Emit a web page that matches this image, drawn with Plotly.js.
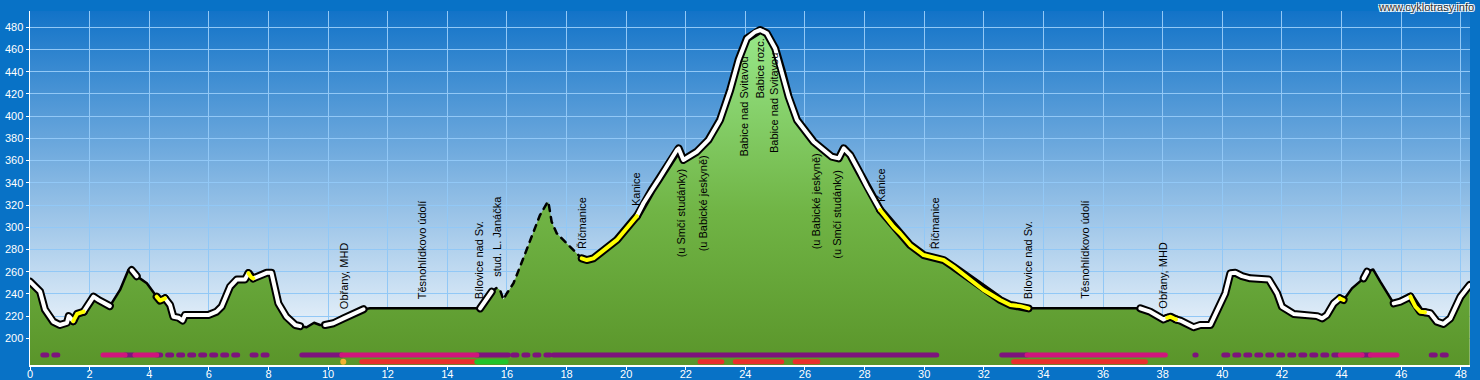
<!DOCTYPE html>
<html><head><meta charset="utf-8">
<script src="https://cdn.plot.ly/plotly-3.0.1.min.js"></script>
<style>
html,body{margin:0;padding:0;background:#0872c6;}
#wrap{position:relative;width:1480px;height:380px;background:#0872c6;overflow:hidden;}
#sky{position:absolute;left:30px;top:11px;width:1440px;height:354px;background:linear-gradient(to bottom,#1273c8 0%,#ffffff 100%);}
#chart{position:absolute;left:0;top:0;width:1480px;height:380px;}
#chart path.js-line{stroke-linecap:round !important;stroke-linejoin:round !important;}
</style></head><body>
<div id="wrap"><div id="sky"></div><div id="chart"></div></div>
<script>
// Elevation profile (distance km, elevation m)
const km = [0.00,0.34,0.50,0.78,1.00,1.24,1.30,1.45,1.58,1.80,1.96,2.13,2.30,2.57,2.68,3.02,3.30,3.41,3.50,3.58,3.69,3.92,4.25,4.36,4.53,4.70,4.81,4.98,5.12,5.20,5.98,6.26,6.43,6.71,6.94,7.21,7.33,7.42,7.49,7.66,7.94,8.10,8.33,8.60,8.90,9.06,9.28,9.53,9.73,9.90,10.18,10.52,10.91,11.19,11.41,14.99,15.10,15.38,15.49,15.66,15.77,15.88,16.00,16.22,16.44,16.78,17.11,17.34,17.39,17.50,17.67,18.00,18.34,18.51,18.68,18.90,19.13,19.69,20.25,20.36,20.58,20.86,21.08,21.70,21.76,21.92,22.37,22.76,23.15,23.49,23.77,24.05,24.33,24.50,24.72,25.00,25.23,25.45,25.73,26.29,26.90,27.13,27.30,27.52,27.85,28.08,28.52,28.97,29.19,29.53,29.98,30.20,30.65,30.98,31.43,31.99,32.55,32.89,33.22,33.50,37.25,37.58,38.03,38.15,38.26,38.45,38.59,39.04,39.26,39.60,39.93,40.10,40.27,40.44,40.66,40.94,41.56,41.84,42.00,42.39,43.18,43.35,43.51,43.74,43.94,44.07,44.35,44.74,44.86,45.06,45.30,45.75,45.97,46.31,46.48,46.64,46.80,46.98,47.20,47.42,47.65,47.99,48.30];
const elev = [251,242,226,215,212,214,220,215.5,222,224,230,237.5,234.5,230,229,243.6,261.5,261.5,258,256,254,249.6,237.5,234,236,230,219.5,218.6,216,221,221,224,228.5,246.5,253,253,258.6,255,254,256,259,259,231.6,219.5,212,211,210,214,212,212,213.6,218,222.6,226.2,227,227,227,237.5,242,245.6,243.5,235,240.6,249.6,264.5,288.6,311,321.6,323,305,294.6,285.6,276.6,272,270.5,272,276.6,288.6,306.6,310,321.6,333.6,342.6,369.6,371,360.6,368,378.6,396.6,423.5,450.6,470,476,477.6,474.6,461,440,417.5,396.6,377,363.5,362,371,365,348.6,336.5,315.6,300.5,294.6,284,275,273.5,270.5,264.5,255.5,243.5,234.5,230,229,227,227,224,217,218.5,219.5,217,216,210,212,212,230,240.5,258.6,259,256,254,253,240.5,228.5,222,220,218,221,231.5,236,234.5,245,254,260,262,251,231.5,233,237.5,228.5,224,223.5,222.6,215,213,218,237.5,248];

// Line style segments of the profile (w = white, y = yellow, b = black, d = dashed)
const segFrom  = [0.00,1.45,1.80,2.68,3.41,3.58,4.25,4.53,7.33,7.49,9.06,9.90,11.19,15.10,15.49,18.51,20.36,28.52,33.50,37.25,38.15,38.45,43.94,44.07,44.74,44.86,45.75,46.31,46.80];
const segTo    = [1.45,1.80,2.68,3.41,3.58,4.25,4.53,7.33,7.49,9.06,9.90,11.19,15.10,15.49,18.51,20.36,28.52,33.50,37.25,38.15,38.45,43.94,44.07,44.74,44.86,45.75,46.31,46.80,48.30];
const segStyle = ['w','y','w','b','w','b','y','w','y','w','b','w','b','w','d','y','w','y','b','w','y','w','y','b','w','b','w','y','w'];

// Waypoint labels
const labelKm   = [10.54,13.16,15.07,15.68,18.52,20.33,21.87,22.59,23.94,24.46,24.96,26.38,27.08,28.55,30.37,33.49,35.39,38.00];
const labelText = ['Obřany, MHD','Těsnohlídkovo údolí','Bílovice nad Sv.','stud. L. Janáčka','Říčmanice','Kanice','(u Smčí studánky)','(u Babické jeskyně)','Babice nad Svitavou','Babice rozc.','Babice nad Svitavou','(u Babické jeskyně)','(u Smčí studánky)','Kanice','Říčmanice','Bílovice nad Sv.','Těsnohlídkovo údolí','Obřany, MHD'];

// Surface / route type bars
const bar1From = [0.43,2.45,3.19,3.52,4.25,7.45,9.12,10.46,14.99,16.20,17.56,32.60,33.45,39.08,40.05,43.96,44.69,44.97,47.01];
const bar1To   = [1.06,3.19,3.46,4.25,7.15,8.12,10.46,14.99,16.05,17.50,30.42,33.45,38.09,39.12,43.96,44.69,44.97,45.86,47.67];
const bar1Type = ['pdash','magenta','purple','magenta','pdash','pdash','purple','magenta','purple','pdash','purple','purple','magenta','purple','pdash','magenta','purple','magenta','pdash'];
const bar2From = [11.13,14.99,22.48,23.66,25.67,33.00];
const bar2To   = [14.99,15.97,23.21,25.22,26.43,37.42];
const bar2Type = ['red','green','red','red','red','red'];
const pointKm  = [10.51];

const xTicks = [0,2,4,6,8,10,12,14,16,18,20,22,24,26,28,30,32,34,36,38,40,42,44,46,48];
const yTicks = [200,220,240,260,280,300,320,340,360,380,400,420,440,460,480];

// ---- layout constants
const ROW1 = 185, ROW2 = 179;
const labelBottomPx = [310,300,300,278,250,207,258,252,158,100,154,250,260,203,250,300,300,310];
const Y0 = 176, Y1 = 494.7;
const pxToElev = p => 480 - (p - 27.3) / 1.111;

function segXY(styles){
  const xs=[], ys=[];
  segStyle.forEach((s,i)=>{
    if(!styles.includes(s)) return;
    km.forEach((k,j)=>{ if(k>=segFrom[i]-1e-9 && k<=segTo[i]+1e-9){ xs.push(k); ys.push(elev[j]); } });
    xs.push(null); ys.push(null);
  });
  return {x:xs, y:ys};
}
function barXY(from,to,types,type,row){
  const xs=[], ys=[];
  types.forEach((t,i)=>{ if(t===type){ xs.push(from[i],to[i],null); ys.push(row,row,null); } });
  return {x:xs, y:ys};
}
const base = {type:'scatter', mode:'lines', hoverinfo:'skip', showlegend:false, connectgaps:false};
const traces = [];
traces.push(Object.assign({}, base, {x:km, y:elev, fill:'tozeroy', line:{width:0, color:'rgba(0,0,0,0)'},
  fillgradient:{type:'vertical', start:Y0, stop:480, colorscale:[[0,'#5a952a'],[0.45,'#70b445'],[1,'#98e88a']]}}));

const barStyles = {
  purple:{color:'#7d137d', width:5},
  pdash:{color:'#7d137d', width:5, dash:'4px,7px'},
  magenta:{color:'#d0157c', width:5},
  red:{color:'#e8302c', width:5},
  green:{color:'#22c42a', width:5}
};
['purple','pdash','magenta'].forEach(t=>{
  const d = barXY(bar1From,bar1To,bar1Type,t,ROW1);
  traces.push(Object.assign({}, base, d, {line:barStyles[t]}));
});
['red','green'].forEach(t=>{
  const d = barXY(bar2From,bar2To,bar2Type,t,ROW2);
  traces.push(Object.assign({}, base, d, {line:barStyles[t]}));
});
traces.push(Object.assign({}, base, {mode:'markers', x:pointKm, y:pointKm.map(()=>ROW2), marker:{size:6, color:'#f2b232'}}));

traces.push(Object.assign({}, base, segXY(['b']), {line:{color:'#000', width:2.5}}));
traces.push(Object.assign({}, base, segXY(['d']), {line:{color:'#000', width:2.5, dash:'6px,6px'}}));
traces.push(Object.assign({}, base, segXY(['w','y']), {line:{color:'#000', width:8}}));
traces.push(Object.assign({}, base, segXY(['w']), {line:{color:'#ffffff', width:4}}));
traces.push(Object.assign({}, base, segXY(['y']), {line:{color:'#ffff00', width:4}}));

const tickFont = {family:'Liberation Sans, Arial, sans-serif', size:11, color:'#ffffff'};
const annotations = labelText.map((t,i)=>({
  x:labelKm[i], y:pxToElev(labelBottomPx[i]), xref:'x', yref:'y', text:t, showarrow:false,
  textangle:-90, xanchor:'center', yanchor:'bottom', borderpad:0,
  font:{family:'Liberation Sans, Arial, sans-serif', size:11, color:'#000'}
}));
annotations.push({xref:'paper', yref:'paper', x:1.0035, y:1.03, xanchor:'right', yanchor:'top', showarrow:false,
  text:'www.cyklotrasy.info', borderpad:0,
  font:{family:'Liberation Sans, Arial, sans-serif', size:11, color:'#333',
        shadow:'1px 1px 0 #fff, -1px -1px 0 #fff, 1px -1px 0 #fff, -1px 1px 0 #fff'}});

const layout = {
  width:1480, height:380,
  margin:{l:30, r:10, t:11, b:15, pad:0},
  paper_bgcolor:'rgba(0,0,0,0)', plot_bgcolor:'rgba(0,0,0,0)',
  showlegend:false,
  xaxis:{range:[0,48.31], tickmode:'array', tickvals:xTicks, ticktext:xTicks.map(String),
    showgrid:true, gridcolor:'#92c8f6', gridwidth:1, zeroline:false,
    showline:true, linecolor:'#ffffff', linewidth:1.5, ticks:'outside', ticklen:3, tickcolor:'#ffffff',
    ticklabelstandoff:-5, tickfont:tickFont, fixedrange:true},
  yaxis:{range:[Y0,Y1], tickmode:'array', tickvals:yTicks, ticktext:yTicks.map(String),
    showgrid:true, gridcolor:'#92c8f6', gridwidth:1, zeroline:false,
    showline:true, linecolor:'#ffffff', linewidth:1.5, ticks:'outside', ticklen:3, tickcolor:'#ffffff',
    tickfont:tickFont, fixedrange:true},
  annotations:annotations
};
Plotly.newPlot('chart', traces, layout, {displayModeBar:false, staticPlot:true});
</script>
</body></html>
